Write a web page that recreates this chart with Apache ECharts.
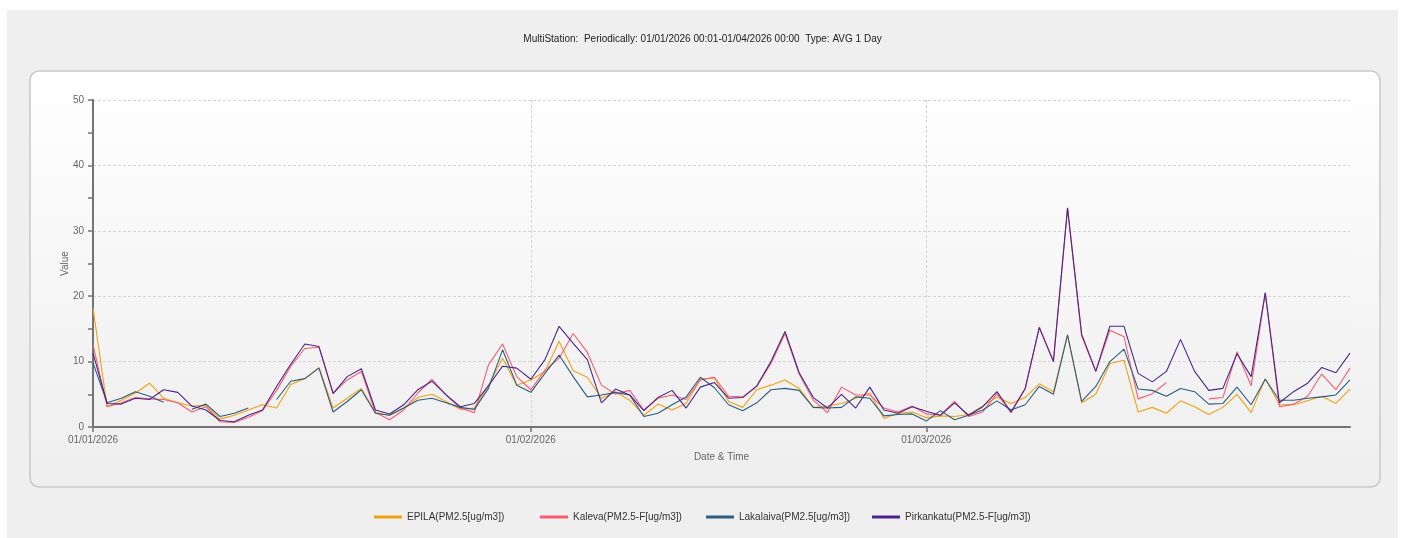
<!DOCTYPE html>
<html>
<head>
<meta charset="utf-8">
<script src="https://cdn.jsdelivr.net/npm/echarts@6/dist/echarts.min.js"></script>
<style>
  html, body { margin: 0; padding: 0; background: #ffffff; }
  #chart { width: 1405px; height: 538px; }
</style>
</head>
<body>
<div id="chart"></div>
<script>
// Daily averages of PM2.5, 01/01/2026 - 31/03/2026 (null = no data that day)
const seriesNames = [
  'EPILA(PM2.5[ug/m3])',
  'Kaleva(PM2.5-F[ug/m3])',
  'Lakalaiva(PM2.5[ug/m3])',
  'Pirkankatu(PM2.5-F[ug/m3])'
];

const epila = [
  18.2, 3.1, 4.1, 5.2, 6.7, 4.4, 3.7, 3.2, 3.3, 1.2,
  1.8, 2.6, 3.4, 2.9, 6.5, 7.4, 9.1, 2.9, 4.4, 5.9,
  2.2, 1.8, 2.9, 4.5, 5.0, 3.9, 2.7, 2.9, 6.4, 10.5,
  6.4, 7.2, 8.5, 13.1, 8.6, 7.6, 4.4, 5.4, 4.1, 1.8,
  3.5, 2.6, 3.6, 7.3, 7.5, 3.9, 3.0, 5.7, 6.4, 7.2,
  5.9, 3.0, 3.2, 3.6, 4.4, 5.2, 1.3, 2.1, 2.3, 1.4,
  1.7, 1.6, 1.9, 3.2, 4.6, 3.6, 4.5, 6.6, 5.4, 14.1,
  3.7, 5.0, 9.7, 10.2, 2.3, 3.0, 2.1, 4.0, 3.1, 1.9,
  3.0, 5.0, 2.2, 7.4, 3.4, 3.4, 4.0, 4.7, 3.6, 5.8
];

const kaleva = [
  12.6, 3.1, 3.7, 4.5, 4.3, 4.2, 3.7, 2.3, 3.1, 0.8,
  0.7, 1.5, 2.5, 5.6, 9.3, 12.0, 12.2, 5.2, 7.2, 8.5,
  2.2, 1.1, 2.6, 5.2, 7.3, 4.9, 2.9, 2.2, 9.5, 12.7,
  7.7, 5.7, 8.7, 10.5, 14.3, 11.4, 6.4, 5.0, 5.6, 2.6,
  4.4, 4.9, 4.2, 7.2, 7.6, 4.7, 4.6, 6.2, 9.7, 14.3,
  8.1, 4.1, 2.2, 6.1, 4.9, 4.9, 2.9, 2.3, 3.2, 2.0,
  1.8, 3.9, 1.6, 2.3, 5.1, 2.2, 5.8, 15.3, 10.1, 33.4,
  13.9, 8.5, 14.8, 13.8, 4.3, 5.1, 6.8, null, null, 4.3,
  4.5, 11.5, 6.3, 20.5, 3.1, 3.5, 4.7, 8.1, 5.7, 9.0
];

const lakalaiva = [
  9.8, 3.7, 4.4, 5.4, 4.7, 3.8, null, 2.7, 3.5, 1.6,
  2.1, 2.9, null, 4.2, 7.0, 7.4, 9.0, 2.3, 3.9, 5.7,
  2.1, 1.8, 2.9, 4.1, 4.4, 3.7, 3.0, 2.7, 5.9, 11.8,
  6.4, 5.3, 8.2, 11.0, 7.7, 4.6, 4.9, 5.3, 4.9, 1.6,
  2.1, 3.4, 4.6, 7.6, 6.0, 3.4, 2.5, 3.7, 5.7, 5.9,
  5.6, 3.0, 2.9, 3.0, 4.6, 4.4, 1.7, 1.9, 2.0, 0.9,
  2.5, 1.1, 1.8, 2.6, 4.0, 2.6, 3.4, 6.2, 5.0, 14.1,
  3.9, 6.2, 10.0, 11.9, 5.8, 5.6, 4.7, 5.9, 5.4, 3.5,
  3.6, 6.1, 3.4, 7.3, 4.1, 4.1, 4.4, 4.6, 4.9, 7.2
];

const pirkankatu = [
  11.3, 3.6, 3.5, 4.4, 4.2, 5.7, 5.3, 3.2, 2.6, 1.0,
  0.8, 1.8, 2.6, 6.2, 9.6, 12.7, 12.3, 5.1, 7.7, 8.9,
  2.6, 2.0, 3.4, 5.7, 7.0, 4.9, 3.1, 3.6, 6.3, 9.3,
  9.0, 7.3, 10.3, 15.4, 12.8, 10.3, 3.7, 5.8, 4.9, 2.5,
  4.5, 5.6, 2.9, 6.1, 6.8, 4.4, 4.5, 6.3, 10.0, 14.6,
  8.3, 4.5, 2.9, 5.0, 2.9, 6.1, 2.6, 2.1, 3.1, 2.4,
  1.8, 3.7, 1.8, 3.1, 5.4, 2.3, 5.9, 15.2, 10.0, 33.5,
  14.2, 8.5, 15.4, 15.4, 8.2, 6.9, 8.5, 13.4, 8.5, 5.6,
  5.9, 11.2, 7.7, 20.5, 3.7, 5.4, 6.7, 9.1, 8.3, 11.3
];

const seriesColors = ['#f2a10f', '#fb5a6f', '#2b5d84', '#4a2590'];

// One category per day, labelled dd/mm/yyyy
const firstDay = Date.UTC(2026, 0, 1);
const dayCount = epila.length;
const pad = n => (n < 10 ? '0' : '') + n;
const categories = [];
for (let i = 0; i < dayCount; i++) {
  const d = new Date(firstDay + i * 86400000);
  categories.push(pad(d.getUTCDate()) + '/' + pad(d.getUTCMonth() + 1) + '/' + d.getUTCFullYear());
}
const isMonthStart = (idx, value) => value.slice(0, 2) === '01';

const titleText = 'MultiStation:  Periodically: 01/01/2026 00:01-01/04/2026 00:00  Type: AVG 1 Day';
const yTicks = { min: 0, max: 50, interval: 10 };

const chart = echarts.init(document.getElementById('chart'), null, { renderer: 'canvas' });

const values = [epila, kaleva, lakalaiva, pirkankatu];

// Legend entries sit in equal-width slots along the bottom
const legendSlotLeft = 374;
const legendSlotWidth = 166;
const legends = seriesNames.map((name, i) => ({
  data: [name],
  left: legendSlotLeft + i * legendSlotWidth,
  top: 512,
  padding: 0,
  icon: 'rect',
  itemWidth: 28,
  itemHeight: 3,
  textStyle: { fontSize: 10, color: '#333333' }
}));

chart.setOption({
  animation: false,
  backgroundColor: '#ffffff',
  textStyle: { fontFamily: 'Liberation Sans, Arial, sans-serif' },
  graphic: [
    {
      type: 'rect', z: -20, silent: true,
      shape: { x: 7, y: 10, width: 1391, height: 540 },
      style: { fill: '#efefef' }
    },
    {
      type: 'rect', z: -10, silent: true,
      shape: { x: 30, y: 71, width: 1350, height: 416, r: 9 },
      style: {
        fill: new echarts.graphic.LinearGradient(0, 0, 0, 1, [
          { offset: 0, color: '#ffffff' },
          { offset: 1, color: '#eeeeee' }
        ]),
        stroke: '#c9c9c9',
        lineWidth: 1.5
      }
    }
  ],
  title: {
    text: titleText,
    left: 'center',
    top: 29,
    textStyle: { fontSize: 10, fontWeight: 'normal', color: '#222222' }
  },
  legend: legends,
  grid: {
    left: 93, right: 55, top: 100, bottom: 111,
    show: true,
    borderWidth: 0,
    backgroundColor: new echarts.graphic.LinearGradient(0, 0, 0, 1, [
      { offset: 0, color: '#fefefe' },
      { offset: 1, color: '#f0f0f0' }
    ])
  },
  xAxis: {
    type: 'category',
    data: categories,
    boundaryGap: false,
    name: 'Date & Time',
    nameLocation: 'middle',
    nameGap: 25,
    nameTextStyle: { fontSize: 10, color: '#666666' },
    axisLine: { lineStyle: { color: '#747474', width: 2 } },
    axisTick: { show: true, interval: isMonthStart, length: 5, lineStyle: { color: '#747474', width: 1.5 } },
    axisLabel: { interval: isMonthStart, fontSize: 10, color: '#666666', margin: 8 },
    splitLine: { show: true, interval: isMonthStart, lineStyle: { color: '#d5d5d5', type: [3, 2], width: 1 } }
  },
  yAxis: {
    type: 'value',
    min: yTicks.min,
    max: yTicks.max,
    interval: yTicks.interval,
    name: 'Value',
    nameLocation: 'middle',
    nameGap: 23,
    nameMoveOverlap: false,
    nameTextStyle: { fontSize: 10, color: '#666666' },
    axisLine: { show: true, lineStyle: { color: '#747474', width: 2 } },
    axisTick: { show: true, length: 5, lineStyle: { color: '#747474', width: 1.5 } },
    minorTick: { show: true, splitNumber: 2, length: 5, lineStyle: { color: '#747474', width: 1.5 } },
    axisLabel: { fontSize: 10, color: '#666666', margin: 9 },
    splitLine: { show: true, lineStyle: { color: '#d5d5d5', type: [3, 2], width: 1 } }
  },
  series: seriesNames.map((name, i) => ({
    name: name,
    type: 'line',
    data: values[i],
    showSymbol: false,
    symbol: 'none',
    connectNulls: false,
    smooth: false,
    color: seriesColors[i],
    lineStyle: { width: 1.1, color: seriesColors[i] },
    emphasis: { disabled: true }
  }))
});
</script>
</body>
</html>
